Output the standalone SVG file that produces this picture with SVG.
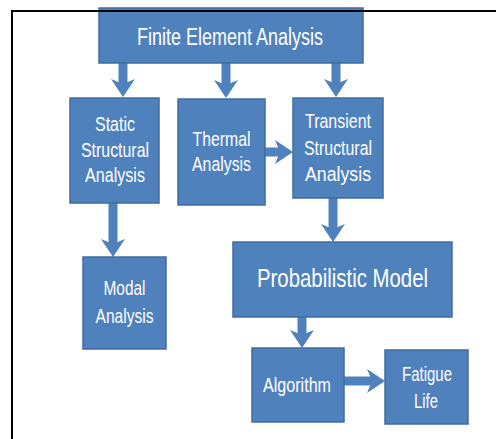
<svg xmlns="http://www.w3.org/2000/svg" width="496" height="439" viewBox="0 0 496 439">
<defs>
<style>
.box{fill:#4f81bd;stroke:#3f6d9f;stroke-width:1.5}
.t{fill:#ffffff;font-family:"Liberation Sans",Arial,sans-serif;text-anchor:middle}
.s{font-size:20.5px}
.arr{stroke:#4f81bd;stroke-width:9;fill:none;marker-end:url(#ah)}
</style>
<marker id="ah" markerUnits="userSpaceOnUse" viewBox="0 0 18 24" markerWidth="18" markerHeight="24" refX="8" refY="12" orient="auto">
<path d="M0,0 L18,12 L0,24 L5,12 Z" fill="#4f81bd"/>
</marker>
</defs>
<rect width="496" height="439" fill="#ffffff"/>

<g id="connectors">
<line class="arr" x1="123" y1="63" x2="123" y2="87"/>
<line class="arr" x1="226" y1="63" x2="226" y2="88"/>
<line class="arr" x1="336" y1="63" x2="336" y2="87"/>
<line class="arr" x1="113" y1="203" x2="113" y2="247"/>
<line class="arr" x1="265" y1="152" x2="283" y2="152"/>
<line class="arr" x1="333" y1="198" x2="333" y2="232"/>
<line class="arr" x1="302" y1="317" x2="302" y2="338"/>
<line class="arr" x1="344" y1="381" x2="375" y2="381"/>
</g>

<g id="fea">
<rect class="box" x="99" y="8" width="264" height="55"/>
<text class="t" x="230" y="45" font-size="23" textLength="186" lengthAdjust="spacingAndGlyphs">Finite Element Analysis</text>
</g>

<g id="static">
<rect class="box" x="70" y="98" width="89" height="105"/>
<text class="t s" x="115" y="131" textLength="40" lengthAdjust="spacingAndGlyphs">Static</text>
<text class="t s" x="115" y="157" textLength="68" lengthAdjust="spacingAndGlyphs">Structural</text>
<text class="t s" x="115" y="182" textLength="60" lengthAdjust="spacingAndGlyphs">Analysis</text>
</g>

<g id="thermal">
<rect class="box" x="178" y="99" width="87" height="106"/>
<text class="t s" x="221.5" y="146" textLength="58" lengthAdjust="spacingAndGlyphs">Thermal</text>
<text class="t s" x="221.5" y="171" textLength="59" lengthAdjust="spacingAndGlyphs">Analysis</text>
</g>

<g id="transient">
<rect class="box" x="293" y="98" width="90" height="100"/>
<text class="t s" x="338" y="128" textLength="66" lengthAdjust="spacingAndGlyphs">Transient</text>
<text class="t s" x="338" y="155" textLength="68" lengthAdjust="spacingAndGlyphs">Structural</text>
<text class="t s" x="338" y="181" textLength="66" lengthAdjust="spacingAndGlyphs">Analysis</text>
</g>

<g id="modal">
<rect class="box" x="83" y="257" width="83" height="92"/>
<text class="t s" x="124.5" y="295" textLength="42" lengthAdjust="spacingAndGlyphs">Modal</text>
<text class="t s" x="124.5" y="323" textLength="58" lengthAdjust="spacingAndGlyphs">Analysis</text>
</g>

<g id="probabilistic">
<rect class="box" x="233" y="242" width="219" height="75"/>
<text class="t" x="342.5" y="287" font-size="26" textLength="171" lengthAdjust="spacingAndGlyphs">Probabilistic Model</text>
</g>

<g id="algorithm">
<rect class="box" x="252" y="348" width="92" height="74"/>
<text class="t s" x="297" y="392" textLength="68" lengthAdjust="spacingAndGlyphs">Algorithm</text>
</g>

<g id="fatigue">
<rect class="box" x="385" y="350" width="83" height="74"/>
<text class="t s" x="427" y="381" textLength="50" lengthAdjust="spacingAndGlyphs">Fatigue</text>
<text class="t s" x="426" y="408" textLength="24" lengthAdjust="spacingAndGlyphs">Life</text>
</g>

<g id="frame">
<path d="M12,439 V11 H496" fill="none" stroke="#000000" stroke-width="2"/>
</g>
</svg>
